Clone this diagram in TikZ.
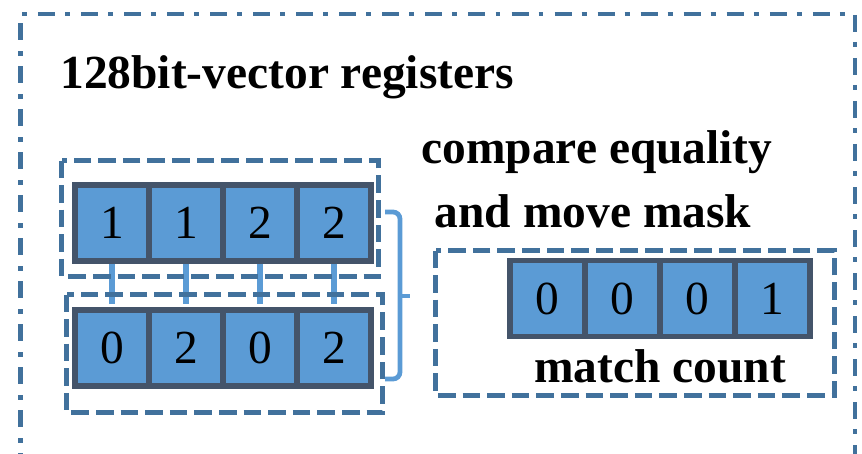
\documentclass[tikz,border=0pt]{standalone}
\usepackage{fontspec}
\setmainfont{Liberation Serif}
\usepackage{tikz}
\usetikzlibrary{positioning}
\usepackage{xcolor}
\definecolor{cellblue}{HTML}{5B9BD5}
\definecolor{celledge}{HTML}{44546A}
\definecolor{frameblue}{HTML}{41719C}

\begin{document}
\begin{tikzpicture}[x=0.02cm, y=-0.02cm,
    cell/.style={draw=celledge, fill=cellblue, line width=3.4pt, minimum width=1.49cm, minimum height=1.52cm, inner sep=0pt, font=\fontsize{27}{32}\selectfont},
    regbox/.style={draw=frameblue, line width=2.8pt, dash pattern=on 10pt off 4pt},
    link/.style={draw=cellblue, line width=3.1pt},
    heading/.style={font=\fontsize{27}{32}\selectfont\bfseries, inner sep=0pt}]
    \clip (0,0) rectangle (862,453);

    % Outer register file frame (runs past the bottom edge)
    \draw[frameblue, line width=2.3pt, dash pattern=on 9.7pt off 5.7pt on 2.8pt off 6.3pt] (20.5,470) -- (20.5,14) -- (855,14) -- (855,470);
    \node[heading, anchor=base west] (title) at (60,88) {128bit-vector registers};

    % Two input vectors
    \foreach \v [count=\i] in {1,1,2,2}
        \node[cell] (a\i) at ({38+74*\i},223) {\v};
    \foreach \v [count=\i] in {0,2,0,2}
        \node[cell] (b\i) at ({38+74*\i},348) {\v};
    \foreach \i in {1,...,4}
        \draw[link, shorten >=1.7pt] (a\i.south) -- (b\i.north);
    \draw[regbox] (61.5,160.5) rectangle (378.5,276.5);
    \draw[regbox] (66.5,294.5) rectangle (382.5,412.5);

    % Brace towards the result
    \coordinate (tip) at (410,296);
    \draw[link, line width=2.7pt, rounded corners=4pt] (385,212) -- (400,212) -- (400,379) -- (385,379);
    \draw[link, line width=2.7pt] (400,296) -- (tip);

    \node[heading, anchor=base] (cmp) at (597,163) {compare equality};
    \node[heading, anchor=base] (mov) at (593,227) {and move mask};

    % Result mask
    \foreach \v [count=\i] in {0,0,0,1}
        \node[cell] (m\i) at ({472.5+75*\i},298.5) {\v};
    \draw[regbox] (435.5,250.5) rectangle (834.5,395.5);
    \node[heading, anchor=base] (cnt) at (660,382) {match count};
\end{tikzpicture}
\end{document}
